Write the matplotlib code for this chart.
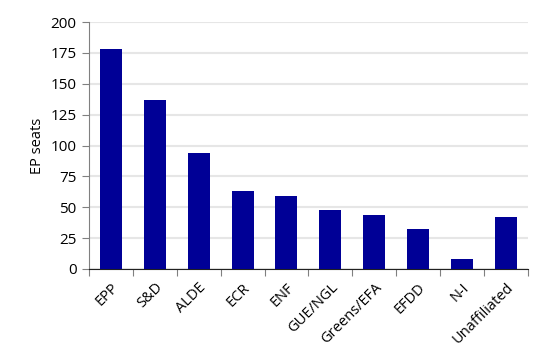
import matplotlib.pyplot as plt
import numpy as np

groups = ['EPP', 'S&D', 'ALDE', 'ECR', 'ENF', 'GUE/NGL', 'Greens/EFA', 'EFDD', 'N-I', 'Unaffiliated']
seats = [178, 137, 94, 63, 59, 48, 44, 32, 8, 42]
yticks = [0, 25, 50, 75, 100, 125, 150, 175, 200]

plt.rcParams['font.family'] = ['Open Sans', 'DejaVu Sans']

fig = plt.figure(figsize=(5.38, 3.63), dpi=100)
ax = fig.add_axes([0.1654, 0.259, 0.8156, 0.68])

x = np.arange(len(groups))
ax.bar(x, seats, width=0.5, color='#000096', zorder=3)

ax.set_xlim(-0.5, len(groups) - 0.5)
ax.set_ylim(0, 200)
ax.set_yticks(yticks)
ax.yaxis.grid(True, color='#e6e6e6', lw=1.5, zorder=0)
ax.set_ylabel('EP seats', fontsize=10.5, labelpad=4)

# ticks sit between categories, labels under each bar
ax.set_xticks(np.arange(len(groups) + 1) - 0.5)
ax.set_xticklabels([])
ax.set_xticks(x, minor=True)
ax.set_xticklabels(groups, minor=True, rotation=45, ha='right', va='top',
                   rotation_mode='anchor', fontsize=10.5)
ax.tick_params(axis='x', which='minor', length=0, pad=8)
ax.tick_params(axis='x', which='major', length=5, color='#808080', direction='out')
ax.tick_params(axis='y', length=5, color='#808080', labelsize=11, pad=4)

for s in ['top', 'right']:
    ax.spines[s].set_visible(False)
ax.spines['left'].set_color('#808080')
ax.spines['bottom'].set_color('#202020')

fig.savefig('out.png', dpi=100)
